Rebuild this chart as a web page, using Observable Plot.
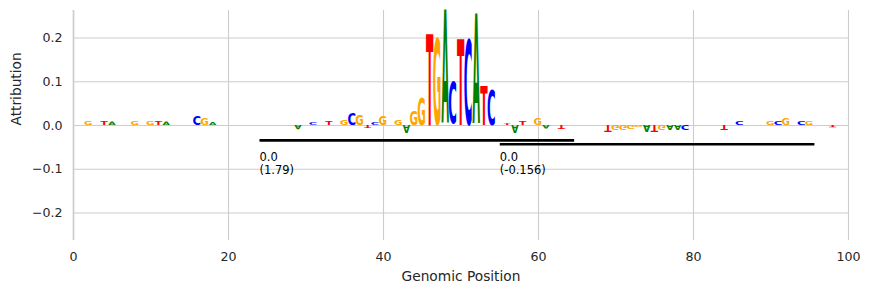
<!DOCTYPE html>
<html>
<head>
<meta charset="utf-8">
<script src="https://cdn.jsdelivr.net/npm/d3@7"></script>
<script src="https://cdn.jsdelivr.net/npm/@observablehq/plot@0.6"></script>
<style>
  body { margin: 0; background: #ffffff; }
</style>
</head>
<body>
<div id="chart"></div>
<script>
// Per-position attributions: position index, nucleotide, attribution value
const positions = [2, 4, 5, 8, 10, 11, 12, 16, 17, 18,
  29, 31, 33, 35, 36, 37, 38, 39, 40, 42, 43, 44, 45,
  46, 47, 48, 49, 50, 51, 52, 53, 54,
  56, 57, 58, 60, 61, 63,
  69, 70, 71, 72, 73, 74, 75, 76, 77, 78, 79,
  84, 86, 90, 91, 92, 94, 95, 98];
const bases = ["G", "T", "A", "G", "G", "T", "A", "C", "G", "A",
  "A", "C", "T", "G", "C", "G", "T", "C", "G", "G", "A", "G", "G",
  "T", "G", "A", "C", "T", "C", "A", "T", "C",
  "T", "A", "T", "G", "A", "T",
  "T", "G", "G", "G", "G", "A", "T", "G", "A", "A", "C",
  "T", "C", "G", "C", "G", "C", "G", "T"];
const attributions = [0.009, 0.010, 0.008, 0.008, 0.009, 0.010, 0.008, 0.020, 0.014, 0.007,
  -0.010, 0.006, 0.008, 0.011, 0.029, 0.023, -0.006, 0.005, 0.020, 0.012, -0.019, 0.035, 0.066,
  0.211, 0.203, 0.263, 0.098, 0.200, 0.202, 0.255, 0.089, 0.084,
  0.004, -0.018, 0.010, 0.015, -0.008, -0.008,
  -0.014, -0.012, -0.011, -0.010, -0.005, -0.014, -0.014, -0.012, -0.013, -0.013, -0.011,
  -0.013, 0.010, 0.009, 0.009, 0.015, 0.009, 0.008, -0.005];

// Motif annotations: span, bar level, and two-line label
const motifStarts = [24, 55];
const motifEnds = [64.6, 95.6];
const motifLevels = [-0.034, -0.043];
const motifLabels = ["0.0\n(1.79)", "0.0\n(-0.156)"];
const motifLabelLevel = -0.058;

// Axis ticks
const xTicks = [0, 20, 40, 60, 80, 100];
const yTicks = [-0.2, -0.1, 0.0, 0.1, 0.2];

const baseColors = {A: "#008000", C: "#0000ff", G: "#ffa500", T: "#ff0000"};

const letters = positions.map((p, i) => ({pos: p, base: bases[i], value: attributions[i]}));
const motifs = motifStarts.map((s, i) => ({
  start: s, end: motifEnds[i], level: motifLevels[i], label: motifLabels[i]
}));

const letterFont = "DejaVu Sans";
const letterWidth = 0.95;

// Tight glyph bounds at a reference size, used to stretch each letter into its cell
const measureCtx = document.createElement("canvas").getContext("2d");
measureCtx.font = `bold 100px "${letterFont}"`;
const glyphBox = {};
for (const b of Object.keys(baseColors)) {
  const m = measureCtx.measureText(b);
  glyphBox[b] = {
    x0: -m.actualBoundingBoxLeft,
    x1: m.actualBoundingBoxRight,
    y0: -m.actualBoundingBoxAscent,
    y1: m.actualBoundingBoxDescent
  };
}

// Sequence-logo mark: each letter fills [pos, pos+1] horizontally and [0, value] vertically;
// letters below zero are drawn upside down.
function logoMark(index, scales) {
  const {x, y} = scales;
  const g = d3.create("svg:g").attr("class", "logo-letters");
  for (const d of letters) {
    const c = d.pos + 0.5;
    const X0 = x(c - letterWidth / 2);
    const X1 = x(c + letterWidth / 2);
    const yTop = y(Math.max(d.value, 0));
    const yBot = y(Math.min(d.value, 0));
    const bb = glyphBox[d.base];
    const sx = (X1 - X0) / (bb.x1 - bb.x0);
    const sy = (yBot - yTop) / (bb.y1 - bb.y0);
    const t = d.value >= 0
      ? `translate(${X0},${yTop}) scale(${sx},${sy}) translate(${-bb.x0},${-bb.y0})`
      : `translate(${X0},${yBot}) scale(${sx},${-sy}) translate(${-bb.x0},${-bb.y0})`;
    g.append("text")
      .attr("transform", t)
      .attr("font-family", letterFont)
      .attr("font-weight", "bold")
      .attr("font-size", 100)
      .attr("fill", baseColors[d.base])
      .text(d.base);
  }
  return g.node();
}

const chart = Plot.plot({
  width: 871,
  height: 294,
  marginLeft: 73,
  marginRight: 23,
  marginTop: 10,
  marginBottom: 54,
  x: {domain: [0, 100]},
  y: {domain: [-0.263, 0.263]},
  style: {fontFamily: "DejaVu Sans", fontSize: "12.6px", color: "#262626", background: "#ffffff"},
  marks: [
    Plot.gridX(xTicks, {stroke: "#cccccc", strokeOpacity: 1, strokeWidth: 1.1}),
    Plot.gridY(yTicks, {stroke: "#cccccc", strokeOpacity: 1, strokeWidth: 1.1}),
    Plot.ruleX([0], {stroke: "#cccccc", strokeWidth: 1.6}),
    Plot.axisX(xTicks, {tickSize: 0, tickPadding: 12, tickFormat: "d", label: null, fontSize: 12.6}),
    Plot.axisY(yTicks, {tickSize: 0, tickPadding: 11, tickFormat: d3.format(".1f"), label: null, fontSize: 12.6}),
    Plot.text(["Genomic Position"], {frameAnchor: "bottom", dy: 40, fontSize: 13.75, fill: "#262626"}),
    Plot.text(["Attribution"], {frameAnchor: "left", dx: -57, rotate: -90, fontSize: 13.75, fill: "#262626"}),
    logoMark,
    Plot.link(motifs, {x1: "start", x2: "end", y1: "level", y2: "level", stroke: "#000000", strokeWidth: 2.6}),
    Plot.text(motifs, {
      x: "start", y: () => motifLabelLevel, text: "label",
      textAnchor: "start", lineAnchor: "top", lineHeight: 1.2,
      fontSize: 11.5, fill: "#000000"
    })
  ]
});

document.getElementById("chart").appendChild(chart);
</script>
</body>
</html>
